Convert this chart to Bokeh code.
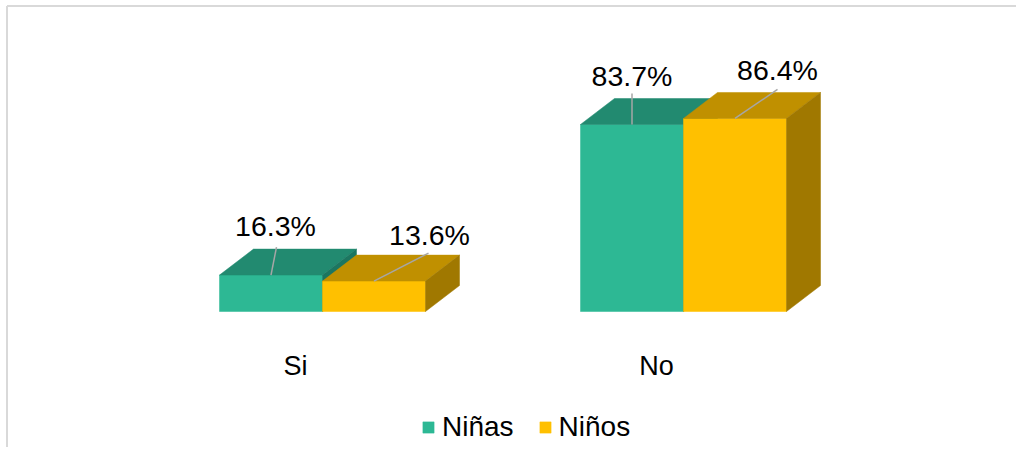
from bokeh.plotting import figure
from bokeh.models import Range1d, Legend, LegendItem
from bokeh.core.properties import value
from bokeh.embed import file_html
from bokeh.resources import INLINE

# ---- data ----
categories = ["Si", "No"]
series = ["Niñas", "Niños"]
ninas = [16.3, 83.7]
ninos = [13.6, 86.4]
labels_ninas = ["16.3%", "83.7%"]
labels_ninos = ["13.6%", "86.4%"]

# ---- layout / style ----
W, H = 1016, 447
PX_PER_GROUP = 361.0
PX_PER_PCT = 2.234
BASE_PX = 311.0
FIRST_GROUP_PX = 322.0
FONT = "Liberation Sans"

x_start = -FIRST_GROUP_PX / PX_PER_GROUP
x_end = (W - FIRST_GROUP_PX) / PX_PER_GROUP
y_end = BASE_PX / PX_PER_PCT
y_start = -(H - BASE_PX) / PX_PER_PCT


def ux(px):
    return px / PX_PER_GROUP


def uy(px):
    return px / PX_PER_PCT


BAR_W = ux(103)
DX = ux(34)
DY = uy(26)

colors = {
    "Niñas": dict(front="#2DB894", top="#228A70", side="#1C7660"),
    "Niños": dict(front="#FFC000", top="#C09000", side="#A07800"),
}

# label offsets (px) from the front-top-centre of each bar: (line dx, line dy, text dx, text dy)
label_pos = {
    "Niñas": [(5.5, 28, 4.5, 49), (0, 31, 0, 49)],
    "Niños": [(54.5, 28, 55.5, 46), (42.5, 29, 42.5, 48)],
}

p = figure(width=W, height=H, output_backend="svg", toolbar_location=None,
           x_range=Range1d(x_start, x_end), y_range=Range1d(y_start, y_end),
           x_axis_location=None, y_axis_location=None, min_border=0)
p.grid.visible = False
p.outline_line_color = None
p.background_fill_color = "white"

# chart border (top and left visible)
bx = x_start + ux(6.5)
by = y_end - uy(5.5)
p.segment(x0=[bx, bx], y0=[by, y_start], x1=[x_end, bx], y1=[by, by],
          line_color="#D9D9D9", line_width=2)

groups = list(range(len(categories)))
renderers = {}
for name, vals in (("Niñas", ninas), ("Niños", ninos)):
    if name == "Niñas":
        lefts = [g - BAR_W for g in groups]
    else:
        lefts = [float(g) for g in groups]
    rights = [l + BAR_W for l in lefts]
    c = colors[name]
    r = p.quad(left=lefts, right=rights, top=vals, bottom=[0] * len(vals),
               fill_color=c["front"], line_color=c["front"], line_width=0.5)
    renderers[name] = r
    p.patches(xs=[[l, rr, rr + DX, l + DX] for l, rr in zip(lefts, rights)],
              ys=[[v, v, v + DY, v + DY] for v in vals],
              fill_color=c["top"], line_color=c["top"], line_width=0.5)
    p.patches(xs=[[rr, rr + DX, rr + DX, rr] for rr in rights],
              ys=[[0, DY, v + DY, v] for v in vals],
              fill_color=c["side"], line_color=c["side"], line_width=0.5)

# data labels with leader lines
for name, vals, texts in (("Niñas", ninas, labels_ninas), ("Niños", ninos, labels_ninos)):
    if name == "Niñas":
        cx = [g - BAR_W / 2 for g in groups]
    else:
        cx = [g + BAR_W / 2 for g in groups]
    pos = label_pos[name]
    p.segment(x0=cx, y0=vals,
              x1=[x + ux(q[0]) for x, q in zip(cx, pos)],
              y1=[v + uy(q[1]) for v, q in zip(vals, pos)],
              line_color="#A6A6A6", line_width=1.5)
    p.text(x=[x + ux(q[2]) for x, q in zip(cx, pos)],
           y=[v + uy(q[3]) for v, q in zip(vals, pos)],
           text=texts, text_font=value(FONT), text_font_size="28.5px",
           text_align="center", text_baseline="middle", text_color="#000000")

# category labels
p.text(x=[g + ux(-27) for g in groups], y=[-uy(54)] * len(groups), text=categories,
       text_font=value(FONT), text_font_size="27px", text_align="center",
       text_baseline="middle", text_color="#000000")

legend = Legend(items=[LegendItem(label=s, renderers=[renderers[s]]) for s in series],
                orientation="horizontal", location=(421, 4),
                glyph_width=14, glyph_height=14, label_standoff=7, spacing=24,
                padding=0, margin=0, border_line_alpha=0, background_fill_alpha=0,
                label_text_font=FONT, label_text_font_size="28px", label_text_color="#000000")
p.add_layout(legend, "center")

open("out.html", "w").write(file_html(p, INLINE))
